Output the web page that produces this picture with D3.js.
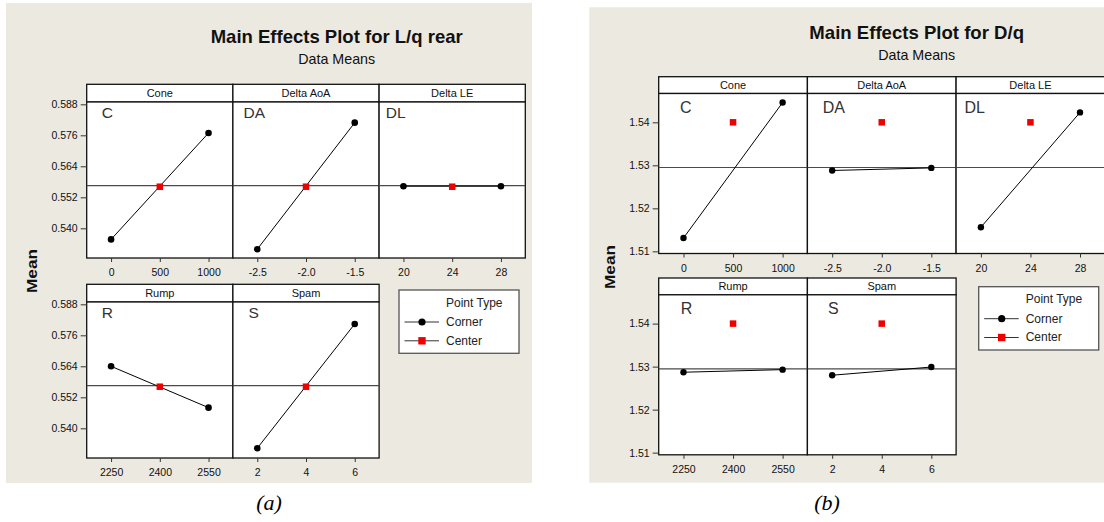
<!DOCTYPE html>
<html>
<head>
<meta charset="utf-8">
<script src="https://cdn.jsdelivr.net/npm/d3@7"></script>
<style>
  html, body { margin: 0; padding: 0; background: #ffffff; }
  svg { display: block; }
  text { font-family: "Liberation Sans", Arial, sans-serif; fill: #111; }
  text.caption { font-family: "Liberation Serif", "DejaVu Serif", serif; font-style: italic; fill: #000; }
</style>
</head>
<body>
<script>
// ---- factors shared by both main-effects plots ----
const factorNames  = ["Cone", "Delta AoA", "Delta LE", "Rump", "Spam"];
const factorCodes  = ["C", "DA", "DL", "R", "S"];
const factorLevels = [[0, 500, 1000], [-2.5, -2.0, -1.5], [20, 24, 28], [2250, 2400, 2550], [2, 4, 6]];
const levelLabels  = [["0", "500", "1000"], ["-2.5", "-2.0", "-1.5"], ["20", "24", "28"], ["2250", "2400", "2550"], ["2", "4", "6"]];
const pointTypes   = ["Corner", "Center"];

// ---- L/q rear: data means ----
const lqCornerLow  = [0.5357, 0.5319, 0.5563, 0.5640, 0.5323];
const lqCornerHigh = [0.5769, 0.5809, 0.5563, 0.5480, 0.5804];
const lqCenter     = [0.5561, 0.5561, 0.5561, 0.5561, 0.5561];
const lqGrandMean  = 0.5565;
const lqYTicks     = [0.540, 0.552, 0.564, 0.576, 0.588];
const lqYDomain    = [0.5285, 0.5889];

// ---- D/q: data means ----
const dqCornerLow  = [1.5131, 1.5288, 1.5156, 1.5287, 1.5280];
const dqCornerHigh = [1.5446, 1.5294, 1.5423, 1.5293, 1.5299];
const dqCenter     = [1.5400, 1.5400, 1.5400, 1.5400, 1.5400];
const dqGrandMean  = 1.5295;
const dqYTicks     = [1.51, 1.52, 1.53, 1.54];
const dqYDomain    = [1.5095, 1.5467];

const BG = "#ece9e0";

const svg = d3.select("body").append("svg")
  .attr("width", 1104).attr("height", 522);

function drawMainEffects(cfg, L) {
  const g = svg.append("g");

  // figure background
  g.append("rect").attr("x", L.bg[0]).attr("y", L.bg[1])
    .attr("width", L.bg[2]).attr("height", L.bg[3]).attr("fill", BG);

  // titles
  g.append("text").attr("x", L.titleX).attr("y", L.titleY)
    .attr("text-anchor", "middle").attr("font-size", 18.5).attr("font-weight", "bold")
    .attr("textLength", L.titleLen).attr("lengthAdjust", "spacingAndGlyphs")
    .text(cfg.title);
  g.append("text").attr("x", L.titleX).attr("y", L.subY)
    .attr("text-anchor", "middle").attr("font-size", 15)
    .attr("textLength", L.subLen).attr("lengthAdjust", "spacingAndGlyphs")
    .text(cfg.subtitle);

  // y-axis title
  g.append("text").attr("x", L.meanX).attr("y", L.meanY)
    .attr("transform", `rotate(-90, ${L.meanX}, ${L.meanY})`)
    .attr("text-anchor", "middle").attr("font-size", 15).attr("font-weight", "bold")
    .attr("textLength", L.meanLen).attr("lengthAdjust", "spacingAndGlyphs")
    .text("Mean");

  const clipId = cfg.id + "-clip";
  const defs = g.append("defs");

  factorNames.forEach((name, i) => {
    const row = i < 3 ? 0 : 1;
    const col = i < 3 ? i : i - 3;
    const px = L.frameLeft + col * L.panelW;
    const top = L.rowTop[row];
    const plotTop = top + L.stripH;
    const plotBottom = plotTop + L.plotH;
    const lv = factorLevels[i];
    const pad = (lv[2] - lv[0]) / 4;

    const x = d3.scaleLinear().domain([lv[0] - pad, lv[2] + pad]).range([px, px + L.panelW]);
    const y = d3.scaleLinear().domain(cfg.yDomain).range([plotBottom, plotTop]);

    defs.append("clipPath").attr("id", clipId + i)
      .append("rect").attr("x", px).attr("y", plotTop).attr("width", L.panelW).attr("height", L.plotH);

    const p = g.append("g");
    // strip + plot area
    p.append("rect").attr("x", px).attr("y", top).attr("width", L.panelW).attr("height", L.stripH)
      .attr("fill", "#fff").attr("stroke", "#111").attr("stroke-width", 1.3);
    p.append("rect").attr("x", px).attr("y", plotTop).attr("width", L.panelW).attr("height", L.plotH)
      .attr("fill", "#fff").attr("stroke", "#111").attr("stroke-width", 1.3);
    p.append("text").attr("x", px + L.panelW / 2).attr("y", top + L.stripH / 2)
      .attr("text-anchor", "middle").attr("dominant-baseline", "central")
      .attr("font-size", 11).text(name);

    const inner = p.append("g").attr("clip-path", `url(#${clipId + i})`);
    // grand mean reference line
    inner.append("line").attr("x1", px).attr("x2", px + L.panelW)
      .attr("y1", y(cfg.mean)).attr("y2", y(cfg.mean))
      .attr("stroke", "#4a4a4a").attr("stroke-width", 1.2);

    // corner points joined by a line
    const corners = [[lv[0], cfg.low[i]], [lv[2], cfg.high[i]]];
    inner.append("path")
      .attr("d", d3.line().x(d => x(d[0])).y(d => y(d[1]))(corners))
      .attr("fill", "none").attr("stroke", "#000").attr("stroke-width", 1);
    inner.selectAll("circle.corner").data(corners).join("circle")
      .attr("class", "corner")
      .attr("cx", d => x(d[0])).attr("cy", d => y(d[1])).attr("r", L.dotR).attr("fill", "#000");

    // center point
    const s = 6.5;
    inner.append("rect")
      .attr("x", x(lv[1]) - s / 2).attr("y", y(cfg.center[i]) - s / 2)
      .attr("width", s).attr("height", s).attr("fill", "#ee0000");

    // panel code letter
    p.append("text").attr("x", px + L.codeInset[i]).attr("y", plotTop + L.codeDy)
      .attr("font-size", L.codeSize).style("fill", "#333").text(factorCodes[i]);

    // x axis
    const xa = p.append("g").attr("transform", `translate(0, ${plotBottom})`)
      .call(d3.axisBottom(x).tickValues(lv).tickSize(4).tickPadding(7)
        .tickFormat((d, k) => levelLabels[i][k]));
    xa.select(".domain").remove();
    xa.selectAll("line").attr("stroke", "#333");
    xa.selectAll("text").attr("font-size", 10.5);

    // y axis on the first panel of each row
    if (col === 0) {
      const ya = p.append("g").attr("transform", `translate(${px}, 0)`)
        .call(d3.axisLeft(y).tickValues(cfg.yTicks).tickSize(6).tickPadding(3).tickFormat(cfg.yFormat));
      ya.select(".domain").remove();
      ya.selectAll("line").attr("stroke", "#333");
      ya.selectAll("text").attr("font-size", 10.5);
    }
  });

  // legend
  const lg = g.append("g").attr("transform", `translate(${L.legend[0]}, ${L.legend[1]})`);
  lg.append("rect").attr("width", L.legend[2]).attr("height", L.legend[3])
    .attr("fill", "#fff").attr("stroke", "#555").attr("stroke-width", 1.3);
  lg.append("text").attr("x", 47).attr("y", 12.5).attr("dominant-baseline", "central")
    .attr("font-size", 12).style("fill", "#222").text("Point Type");
  pointTypes.forEach((t, k) => {
    const yy = 32 + k * 18.8;
    lg.append("line").attr("x1", 5.5).attr("x2", 40).attr("y1", yy).attr("y2", yy)
      .attr("stroke", "#333").attr("stroke-width", 1);
    if (k === 0) {
      lg.append("circle").attr("cx", 23).attr("cy", yy).attr("r", 3.6).attr("fill", "#000");
    } else {
      lg.append("rect").attr("x", 23 - 3.7).attr("y", yy - 3.7).attr("width", 7.4).attr("height", 7.4).attr("fill", "#ee0000");
    }
    lg.append("text").attr("x", 47).attr("y", yy).attr("dominant-baseline", "central")
      .attr("font-size", 12).style("fill", "#222").text(t);
  });

  // caption
  g.append("text").attr("class", "caption").attr("x", L.captionX).attr("y", L.captionY)
    .attr("text-anchor", "middle").attr("font-size", 22)
    .text(cfg.caption);
}

drawMainEffects({
  id: "lq", title: "Main Effects Plot for L/q rear", subtitle: "Data Means", caption: "(a)",
  low: lqCornerLow, high: lqCornerHigh, center: lqCenter, mean: lqGrandMean,
  yTicks: lqYTicks, yDomain: lqYDomain, yFormat: d3.format(".3f")
}, {
  bg: [6, 3, 526, 480], frameLeft: 86.7, panelW: 146.2, rowTop: [84.3, 284.3], stripH: 17.7, plotH: 156,
  titleX: 336.7, titleY: 43.3, titleLen: 252, subY: 64, subLen: 77,
  meanX: 36.7, meanY: 271, meanLen: 44,
  legend: [399, 290, 120, 63.3], captionX: 269, captionY: 510,
  codeInset: [15, 10.7, 6.7, 15, 15.6], codeDy: 15.7, codeSize: 15.5, dotR: 3.3
});

drawMainEffects({
  id: "dq", title: "Main Effects Plot for D/q", subtitle: "Data Means", caption: "(b)",
  low: dqCornerLow, high: dqCornerHigh, center: dqCenter, mean: dqGrandMean,
  yTicks: dqYTicks, yDomain: dqYDomain, yFormat: d3.format(".2f")
}, {
  bg: [589.3, 7.3, 515, 475.4], frameLeft: 658.7, panelW: 148.7, rowTop: [76.7, 278], stripH: 16.8, plotH: 160,
  titleX: 916.7, titleY: 39, titleLen: 214.7, subY: 60, subLen: 77,
  meanX: 615, meanY: 267, meanLen: 44,
  legend: [978.7, 286.7, 120, 63.3], captionX: 827, captionY: 510,
  codeInset: [21.3, 15.3, 8.3, 22, 20.7], codeDy: 19.3, codeSize: 16, dotR: 3.2
});
</script>
</body>
</html>
